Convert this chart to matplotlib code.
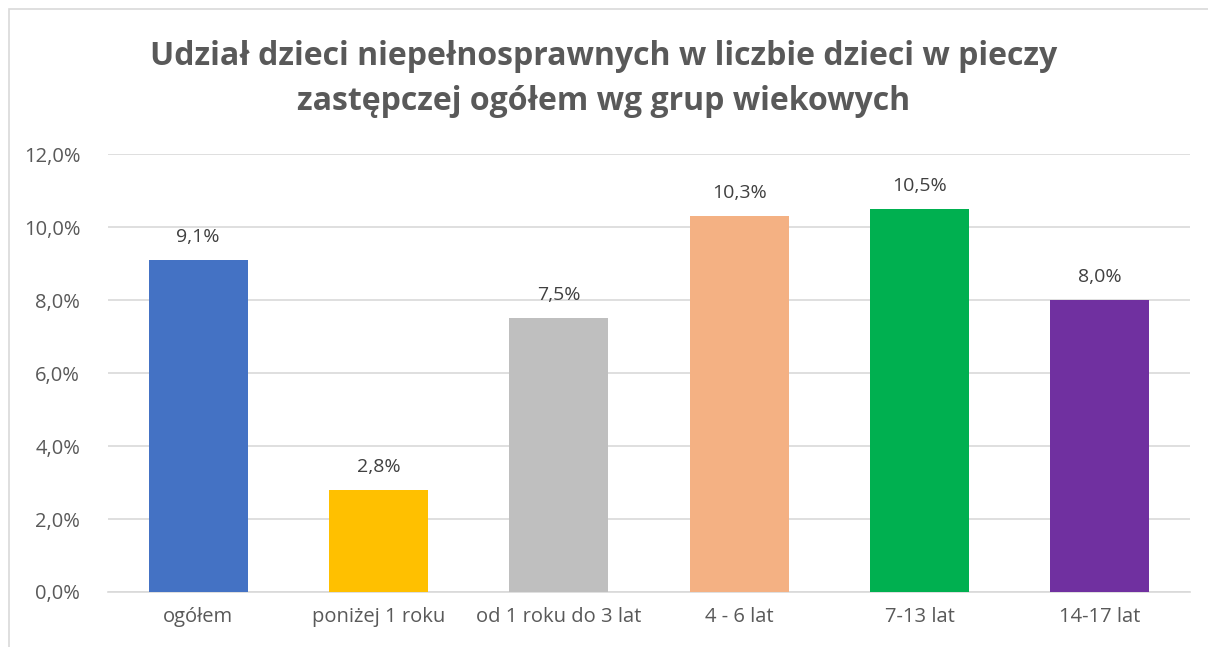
import matplotlib.pyplot as plt
from matplotlib.patches import Rectangle
from matplotlib.ticker import FuncFormatter

# dane
kategorie = ["ogółem", "poniżej 1 roku", "od 1 roku do 3 lat", "4 - 6 lat", "7-13 lat", "14-17 lat"]
wartosci = [9.1, 2.8, 7.5, 10.3, 10.5, 8.0]
kolory = ["#4472C4", "#FFC000", "#BFBFBF", "#F4B183", "#00B050", "#7030A0"]
tytul = "Udział dzieci niepełnosprawnych w liczbie dzieci w pieczy\nzastępczej ogółem wg grup wiekowych"

plt.rcParams['font.family'] = ['Open Sans', 'DejaVu Sans']
szary = "#595959"

fig = plt.figure(figsize=(12.08, 6.47), dpi=100)
ax = fig.add_axes([108/1208, 1 - 592/647, (1190-108)/1208, (592-154)/647])

x = range(len(kategorie))
ax.bar(x, wartosci, width=0.55, color=kolory, zorder=3)

for i, v in enumerate(wartosci):
    ax.text(i, v + 0.38, f"{v:.1f}%".replace(".", ","), ha="center", va="bottom",
            fontsize=14, color="#404040")

ax.set_ylim(0, 12)
ax.set_xlim(-0.5, len(kategorie) - 0.5)
ax.set_yticks([0, 2, 4, 6, 8, 10, 12])
ax.yaxis.set_major_formatter(FuncFormatter(lambda v, p: f"{v:.1f}%".replace(".", ",")))
ax.set_xticks(list(x))
ax.set_xticklabels(kategorie)
ax.tick_params(axis="both", length=0, labelsize=14.5, colors=szary)
ax.tick_params(axis="x", pad=11)
ax.tick_params(axis="y", pad=20)
ax.grid(axis="y", color="#D9D9D9", linewidth=1.2, zorder=0)
for s in ["top", "right", "left"]:
    ax.spines[s].set_visible(False)
ax.spines["bottom"].set_color("#D9D9D9")
ax.spines["bottom"].set_linewidth(1.2)

fig.text(0.5, 1 - 79/647, tytul, ha="center", va="center", fontsize=23,
         fontweight="bold", color=szary, linespacing=1.45)

# ramka wykresu
fig.patches.append(Rectangle((9/1208, -0.1), 1.2, 1 - 9/647 + 0.1, transform=fig.transFigure,
                             fill=False, edgecolor="#D9D9D9", linewidth=1.2))

fig.savefig("out.png", dpi=100)
